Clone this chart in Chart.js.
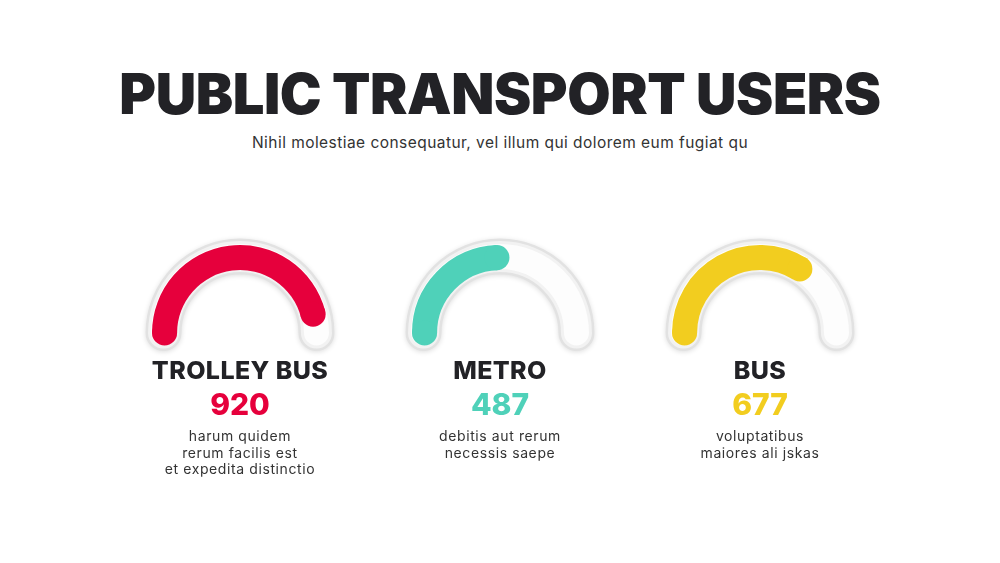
<!DOCTYPE html>
<html>
<head>
<meta charset="utf-8">
<script src="https://cdn.jsdelivr.net/npm/chart.js@4.4.1/dist/chart.umd.min.js"></script>
<style>
  html, body { margin: 0; padding: 0; background: #ffffff; }
  #page { position: relative; width: 1000px; height: 563px; overflow: hidden; font-family: "Inter", "Noto Sans", sans-serif; }
  #title { position: absolute; left: 0; width: 1000px; top: 66px; text-align: center; font-size: 56px; line-height: 56px; font-weight: 900; color: #222226; letter-spacing: -0.4px; }
  #subtitle { position: absolute; left: 0; width: 1000px; top: 134px; text-align: center; font-size: 15.5px; line-height: 18px; color: #333; letter-spacing: 0.45px; }
  .gauge { position: absolute; }
  .label { position: absolute; width: 260px; text-align: center; font-size: 25px; line-height: 26px; font-weight: 800; color: #222226; letter-spacing: 0.4px; }
  .value { position: absolute; width: 260px; text-align: center; font-size: 30px; line-height: 30px; font-weight: 800; }
  .desc { position: absolute; width: 260px; text-align: center; font-size: 14px; line-height: 16.5px; color: #333; letter-spacing: 0.6px; }
</style>
</head>
<body>
<div id="page">
  <div id="title">PUBLIC TRANSPORT USERS</div>
  <div id="subtitle">Nihil molestiae consequatur, vel illum qui dolorem eum fugiat qu</div>
</div>
<script>
  // Datos del gráfico
  const categories = ["TROLLEY BUS", "METRO", "BUS"];
  const users = [920, 487, 677];
  const maxUsers = 1000;
  const colors = ["#e6003c", "#4fd1b9", "#f2cd1f"];
  const descriptions = [
    ["harum quidem", "rerum facilis est", "et expedita distinctio"],
    ["debitis aut rerum", "necessis saepe"],
    ["voluptatibus", "maiores ali jskas"]
  ];

  const centersX = [240, 500, 760];
  const centerY = 333;

  // Pista gris detrás del arco
  const trackPlugin = {
    id: "track",
    beforeDatasetsDraw(chart) {
      const meta = chart.getDatasetMeta(0);
      const first = meta.data[0];
      const last = meta.data[meta.data.length - 1];
      const x = first.x, y = first.y;
      const mid = (first.innerRadius + first.outerRadius) / 2 + 1;
      const a0 = first.startAngle;
      const a1 = last.endAngle;
      const ctx = chart.ctx;
      ctx.save();
      ctx.lineCap = "round";
      ctx.shadowColor = "rgba(0,0,0,0.13)";
      ctx.shadowBlur = 5;
      ctx.shadowOffsetY = 1;
      ctx.beginPath();
      ctx.arc(x, y, mid, a0, a1);
      ctx.strokeStyle = "#e2e2e2";
      ctx.lineWidth = 36;
      ctx.stroke();
      ctx.shadowColor = "transparent";
      ctx.beginPath();
      ctx.arc(x, y, mid, a0, a1);
      ctx.strokeStyle = "#f2f2f2";
      ctx.lineWidth = 31;
      ctx.stroke();
      ctx.beginPath();
      ctx.arc(x, y, mid, a0, a1);
      ctx.strokeStyle = "#fdfdfd";
      ctx.lineWidth = 25;
      ctx.stroke();
      ctx.restore();
    },
    // Extremos redondeados del arco de valor
    afterDatasetsDraw(chart) {
      const arc = chart.getDatasetMeta(0).data[0];
      const mid = (arc.innerRadius + arc.outerRadius) / 2;
      const r = (arc.outerRadius - arc.innerRadius) / 2;
      const ctx = chart.ctx;
      ctx.save();
      ctx.fillStyle = arc.options.backgroundColor;
      [arc.startAngle, arc.endAngle].forEach(a => {
        ctx.beginPath();
        ctx.arc(arc.x + mid * Math.cos(a), arc.y + mid * Math.sin(a), r, 0, Math.PI * 2);
        ctx.fill();
      });
      ctx.restore();
    }
  };

  const page = document.getElementById("page");

  categories.forEach((name, i) => {
    const cx = centersX[i];
    const canvas = document.createElement("canvas");
    canvas.className = "gauge";
    canvas.width = 240;
    canvas.height = 150;
    canvas.style.left = (cx - 120) + "px";
    canvas.style.top = (centerY - 119) + "px";
    page.appendChild(canvas);

    new Chart(canvas.getContext("2d"), {
      type: "doughnut",
      data: {
        labels: [name, ""],
        datasets: [{
          data: [users[i], maxUsers - users[i]],
          backgroundColor: [colors[i], "rgba(0,0,0,0)"],
          borderWidth: 0
        }]
      },
      options: {
        responsive: false,
        animation: false,
        rotation: -90,
        circumference: 180,
        radius: 88,
        cutout: "71.5%",
        layout: { padding: 0 },
        events: [],
        plugins: { legend: { display: false }, tooltip: { enabled: false } }
      },
      plugins: [trackPlugin]
    });

    const label = document.createElement("div");
    label.className = "label";
    label.style.left = (cx - 130) + "px";
    label.style.top = "357px";
    label.textContent = name;
    page.appendChild(label);

    const value = document.createElement("div");
    value.className = "value";
    value.style.left = (cx - 130) + "px";
    value.style.top = "389px";
    value.style.color = colors[i];
    value.textContent = users[i];
    page.appendChild(value);

    const desc = document.createElement("div");
    desc.className = "desc";
    desc.style.left = (cx - 130) + "px";
    desc.style.top = "428px";
    desc.innerHTML = descriptions[i].join("<br>");
    page.appendChild(desc);
  });
</script>
</body>
</html>
